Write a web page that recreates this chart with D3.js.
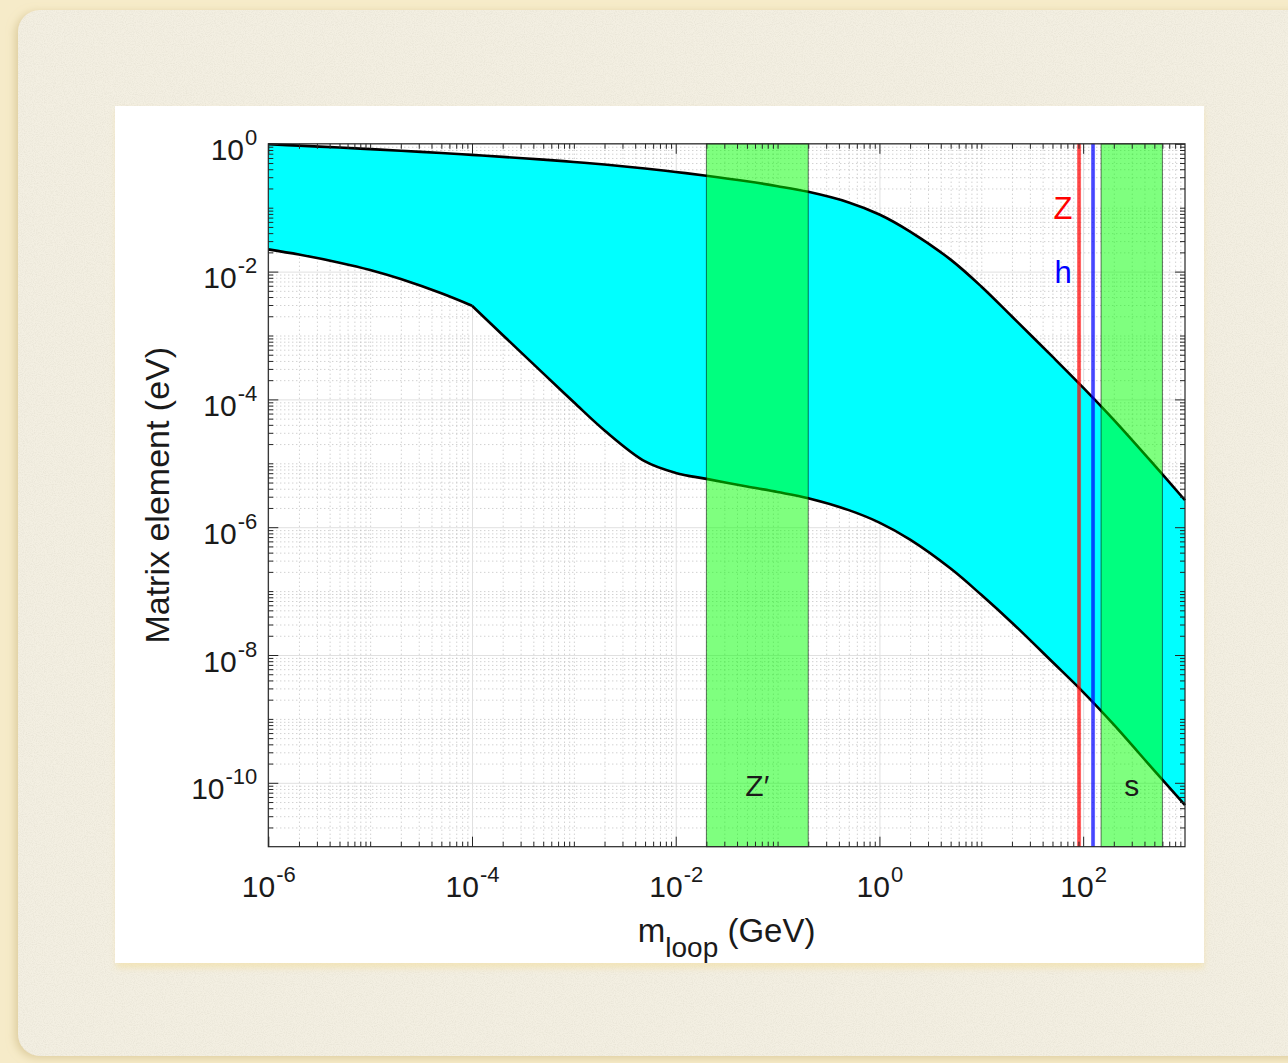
<!DOCTYPE html>
<html>
<head>
<meta charset="utf-8">
<script src="https://cdn.jsdelivr.net/npm/d3@7"></script>
<style>
  body { margin: 0; background: #f6ebc9; }
  svg { display: block; }
  text { font-family: "Liberation Sans", Arial, Helvetica, sans-serif; fill: #1a1a1a; }
</style>
</head>
<body>
<svg id="chart" width="1288" height="1063"></svg>
<script>
// Loop mass (GeV) at which both bounds are sampled
const massGeV = [1e-6, 2e-6, 5e-6, 1e-5, 2e-5, 5e-5, 1e-4, 2e-4, 5e-4, 1e-3, 2e-3, 5e-3,
                 1e-2, 2e-2, 5e-2, 0.1, 0.2, 0.5, 1, 2, 5, 10, 20, 50, 100, 200, 500, 1000];
// Upper edge of the matrix-element band (eV)
const upperBound = [0.982, 0.935, 0.873, 0.826, 0.778, 0.716, 0.670, 0.625, 0.565, 0.520, 0.473, 0.410,
                    0.363, 0.317, 0.259, 0.217, 0.177, 0.121, 0.0783, 0.0423, 0.0154, 5.85e-3, 1.98e-3, 4.66e-4,
                    1.53e-4, 4.79e-5, 9.37e-6, 2.64e-6];
// Lower edge of the matrix-element band (eV)
const lowerBound = [2.23e-2, 1.85e-2, 1.38e-2, 1.06e-2, 7.64e-3, 4.57e-3, 2.92e-3, 1.02e-3, 2.55e-4, 9.02e-5, 3.27e-5, 1.07e-5,
                    7.08e-6, 5.70e-6, 4.34e-6, 3.55e-6, 2.84e-6, 1.85e-6, 1.18e-6, 6.38e-7, 2.25e-7, 8.75e-8, 3.20e-8, 7.76e-9,
                    2.63e-9, 8.13e-10, 1.55e-10, 4.47e-11];
// The lower edge has a corner here
const lowerKinkMass = 1e-4;

// Mass windows of the mediators (GeV)
const bandNames = ["Z\u2032", "s"];
const bandRanges = [[0.02, 0.2], [150, 600]];

// Standard Model bosons
const bosonNames = ["Z", "h"];
const bosonMasses = [91.19, 125.1];
const bosonColors = ["#ff0000", "#0000ff"];

// Labelled decades
const xTickExponents = [-6, -4, -2, 0, 2];
const yTickExponents = [0, -2, -4, -6, -8, -10];

const xDomain = [1e-6, 1e3];
const yDomain = [1e-11, 1];

// ---------------------------------------------------------------------------
const svg = d3.select("#chart");
const W = 1288, H = 1063;
const plot = { left: 268.3, top: 143.8, right: 1185, bottom: 846.7 };
const plotW = plot.right - plot.left, plotH = plot.bottom - plot.top;

const x = d3.scaleLog().domain(xDomain).range([plot.left, plot.right]);
const y = d3.scaleLog().domain(yDomain).range([plot.bottom, plot.top]);

// ---- backdrop: paper card with a white panel ------------------------------
const defs = svg.append("defs");
const shadow = defs.append("filter").attr("id", "cardShadow")
  .attr("x", "-5%").attr("y", "-5%").attr("width", "110%").attr("height", "110%");
shadow.append("feDropShadow").attr("dx", -3).attr("dy", 2).attr("stdDeviation", 4)
  .attr("flood-color", "#c8b37a").attr("flood-opacity", 0.55);

const grain = defs.append("filter").attr("id", "grain");
grain.append("feTurbulence").attr("type", "fractalNoise").attr("baseFrequency", 0.9)
  .attr("numOctaves", 2).attr("seed", 7).attr("result", "noise");
grain.append("feColorMatrix").attr("in", "noise").attr("type", "matrix")
  .attr("values", "0 0 0 0 0.45  0 0 0 0 0.42  0 0 0 0 0.33  0 0 0 0.9 -0.35");
grain.append("feComposite").attr("in2", "SourceGraphic").attr("operator", "in");

const panelBlur = defs.append("filter").attr("id", "panelBlur");
panelBlur.append("feGaussianBlur").attr("stdDeviation", 3);

svg.append("rect").attr("width", W).attr("height", H).attr("fill", "#f6ebc9");
svg.append("rect").attr("x", 18).attr("y", 10).attr("width", W + 40).attr("height", 1046)
  .attr("rx", 22).attr("fill", "#f3efe2").attr("filter", "url(#cardShadow)");
svg.append("rect").attr("x", 18).attr("y", 10).attr("width", W + 40).attr("height", 1046)
  .attr("rx", 22).attr("fill", "#f3efe2").attr("filter", "url(#grain)").attr("opacity", 0.35);

svg.append("rect").attr("x", 116).attr("y", 110).attr("width", 1088).attr("height", 858)
  .attr("fill", "#f2e2b0").attr("opacity", 0.8).attr("filter", "url(#panelBlur)");
svg.append("rect").attr("x", 115).attr("y", 106).attr("width", 1089).attr("height", 857)
  .attr("fill", "#ffffff");

// ---- grid -------------------------------------------------------------------
function minorValues(loExp, hiExp, majors) {
  const out = [];
  for (let k = loExp; k < hiExp; k++) {
    for (let m = 1; m <= 9; m++) {
      const v = +(m + "e" + k);
      if (m === 1 && (majors.includes(k) || k === loExp)) continue;
      out.push(v);
    }
  }
  return out;
}
const xMajor = xTickExponents.map(e => Math.pow(10, e));
const yMajor = yTickExponents.map(e => Math.pow(10, e));
const xMinor = minorValues(-6, 3, xTickExponents);
const yMinor = minorValues(-11, 0, yTickExponents);

const grid = svg.append("g");
grid.append("g").attr("transform", `translate(0,${plot.bottom})`)
  .call(d3.axisBottom(x).tickValues(xMinor).tickSize(-plotH).tickFormat(""))
  .call(g => g.select(".domain").remove())
  .call(g => g.selectAll("line").attr("stroke", "#bdbdbd").attr("stroke-dasharray", "1 3"));
grid.append("g").attr("transform", `translate(${plot.left},0)`)
  .call(d3.axisLeft(y).tickValues(yMinor).tickSize(-plotW).tickFormat(""))
  .call(g => g.select(".domain").remove())
  .call(g => g.selectAll("line").attr("stroke", "#bdbdbd").attr("stroke-dasharray", "1 3"));
grid.append("g").attr("transform", `translate(0,${plot.bottom})`)
  .call(d3.axisBottom(x).tickValues(xMajor).tickSize(-plotH).tickFormat(""))
  .call(g => g.select(".domain").remove())
  .call(g => g.selectAll("line").attr("stroke", "#e0e0e0"));
grid.append("g").attr("transform", `translate(${plot.left},0)`)
  .call(d3.axisLeft(y).tickValues(yMajor).tickSize(-plotW).tickFormat(""))
  .call(g => g.select(".domain").remove())
  .call(g => g.selectAll("line").attr("stroke", "#e0e0e0"));

// ---- band between the two bounds -------------------------------------------
const upperPts = massGeV.map((m, i) => ({ m, v: upperBound[i] }));
const lowerPts = massGeV.map((m, i) => ({ m, v: lowerBound[i] }));
const kinkIdx = massGeV.indexOf(lowerKinkMass);
const lowerLeft = lowerPts.slice(0, kinkIdx + 1);
const lowerRight = lowerPts.slice(kinkIdx);

const line = d3.line().x(d => x(d.m)).y(d => y(d.v)).curve(d3.curveCatmullRom.alpha(0.5));

const fillPath = line(upperPts)
  + "L" + line(lowerRight.slice().reverse()).slice(1)
  + "L" + line(lowerLeft.slice().reverse()).slice(1) + "Z";

svg.append("path").attr("d", fillPath).attr("fill", "#00ffff").attr("stroke", "none");

const curves = svg.append("g").attr("fill", "none").attr("stroke", "#000")
  .attr("stroke-width", 2.6).attr("stroke-linejoin", "round");
curves.append("path").attr("d", line(upperPts));
curves.append("path").attr("d", line(lowerLeft));
curves.append("path").attr("d", line(lowerRight));

// ---- mediator mass windows ---------------------------------------------------
svg.append("g").selectAll("rect").data(bandRanges).join("rect")
  .attr("x", d => x(d[0])).attr("width", d => x(d[1]) - x(d[0]))
  .attr("y", plot.top).attr("height", plotH)
  .attr("fill", "#00ff00").attr("fill-opacity", 0.5)
  .attr("stroke", "#000").attr("stroke-opacity", 0.55).attr("stroke-width", 1);

// ---- boson mass lines --------------------------------------------------------
const bosons = svg.append("g").selectAll("g").data(bosonMasses).join("g");
bosons.append("line")
  .attr("x1", d => x(d)).attr("x2", d => x(d)).attr("y1", plot.top).attr("y2", plot.bottom)
  .attr("stroke", (d, i) => bosonColors[i]).attr("stroke-width", 4).attr("stroke-opacity", 0.6);
bosons.append("line")
  .attr("x1", d => x(d)).attr("x2", d => x(d)).attr("y1", plot.top).attr("y2", plot.bottom)
  .attr("stroke", (d, i) => bosonColors[i]).attr("stroke-width", 1.2).attr("stroke-opacity", 0.5);

// ---- axes: box with inward ticks ---------------------------------------------
const axes = svg.append("g");
function styleTicks(g) {
  g.select(".domain").remove();
  g.selectAll("line").attr("stroke", "#262626").attr("stroke-width", 1);
}
axes.append("g").attr("transform", `translate(0,${plot.bottom})`)
  .call(d3.axisBottom(x).tickValues(xMinor).tickSizeInner(-5).tickSizeOuter(0).tickFormat("")).call(styleTicks);
axes.append("g").attr("transform", `translate(0,${plot.top})`)
  .call(d3.axisTop(x).tickValues(xMinor).tickSizeInner(-5).tickSizeOuter(0).tickFormat("")).call(styleTicks);
axes.append("g").attr("transform", `translate(${plot.left},0)`)
  .call(d3.axisLeft(y).tickValues(yMinor).tickSizeInner(-5).tickSizeOuter(0).tickFormat("")).call(styleTicks);
axes.append("g").attr("transform", `translate(${plot.right},0)`)
  .call(d3.axisRight(y).tickValues(yMinor).tickSizeInner(-5).tickSizeOuter(0).tickFormat("")).call(styleTicks);

const xAxisMajor = axes.append("g").attr("transform", `translate(0,${plot.bottom})`)
  .call(d3.axisBottom(x).tickValues(xMajor).tickSizeInner(-10).tickSizeOuter(0).tickFormat("")).call(styleTicks);
axes.append("g").attr("transform", `translate(0,${plot.top})`)
  .call(d3.axisTop(x).tickValues(xMajor).tickSizeInner(-10).tickSizeOuter(0).tickFormat("")).call(styleTicks);
const yAxisMajor = axes.append("g").attr("transform", `translate(${plot.left},0)`)
  .call(d3.axisLeft(y).tickValues(yMajor).tickSizeInner(-10).tickSizeOuter(0).tickFormat("")).call(styleTicks);
axes.append("g").attr("transform", `translate(${plot.right},0)`)
  .call(d3.axisRight(y).tickValues(yMajor).tickSizeInner(-10).tickSizeOuter(0).tickFormat("")).call(styleTicks);

axes.append("rect").attr("x", plot.left).attr("y", plot.top).attr("width", plotW).attr("height", plotH)
  .attr("fill", "none").attr("stroke", "#262626").attr("stroke-width", 1.2);

// power-of-ten tick labels
function powerLabel(sel, exps) {
  sel.each(function (d, i) {
    const t = d3.select(this).append("text").attr("font-size", 30);
    t.append("tspan").text("10");
    t.append("tspan").attr("dy", -15).attr("dx", 1).attr("font-size", 22).text(exps[i]);
  });
}
xAxisMajor.selectAll(".tick").call(sel => powerLabel(sel, xTickExponents));
xAxisMajor.selectAll(".tick text").attr("y", 50).attr("dy", 0).attr("text-anchor", "middle");
yAxisMajor.selectAll(".tick").call(sel => powerLabel(sel, yTickExponents));
yAxisMajor.selectAll(".tick text").attr("x", -11).attr("y", 16).attr("dy", 0).attr("text-anchor", "end");

// ---- axis titles ---------------------------------------------------------------
const xTitle = svg.append("text").attr("x", (plot.left + plot.right) / 2).attr("y", 941.7)
  .attr("text-anchor", "middle").attr("font-size", 33);
xTitle.append("tspan").text("m");
xTitle.append("tspan").attr("dy", 15).attr("font-size", 28).text("loop");
xTitle.append("tspan").attr("dy", -15).text("\u00a0(GeV)");

svg.append("text").attr("transform", `translate(169,${(plot.top + plot.bottom) / 2}) rotate(-90)`)
  .attr("text-anchor", "middle").attr("font-size", 34).text("Matrix element (eV)");

// ---- annotations -----------------------------------------------------------------
svg.append("g").selectAll("text").data(bosonNames).join("text")
  .attr("x", x(bosonMasses[0]) - 16)
  .attr("y", (d, i) => 219 + i * 64)
  .attr("text-anchor", "middle").attr("font-size", 31)
  .style("fill", (d, i) => bosonColors[i]).text(d => d);

svg.append("g").selectAll("text").data(bandNames).join("text")
  .attr("x", (d, i) => x(Math.sqrt(bandRanges[i][0] * bandRanges[i][1])))
  .attr("y", 796)
  .attr("text-anchor", "middle").attr("font-size", 30).text(d => d);
</script>
</body>
</html>
